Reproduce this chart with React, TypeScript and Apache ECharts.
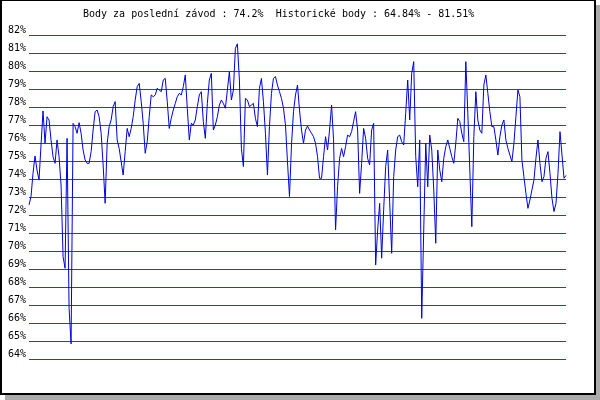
import React, { useEffect, useRef } from "react";
import * as echarts from "echarts";

const titleText = "Body za poslední závod : 74.2%  Historické body : 64.84% - 81.51%";

const scoresPart1 = [
  72.56, 73.02, 74.31, 75.28, 74.5, 73.94, 75.89, 77.78, 75.98, 77.46,
  77.28, 76.17, 75.24, 74.87, 76.17, 75.24, 73.67, 69.69, 69.04, 76.26,
  66.81, 64.84, 77.09, 76.91, 76.54, 77.13, 76.54, 75.61, 75.06, 74.87,
  74.87, 75.52, 76.72, 77.74, 77.83, 77.46, 76.54, 74.78, 72.65, 75.98,
  76.91, 77.28, 78.02, 78.3, 76.17, 75.7, 74.96, 74.22, 75.52, 76.81,
  76.35, 76.81, 77.46, 78.39, 79.13, 79.31, 78.3, 77.09, 75.43, 76.07,
  77.46, 78.67, 78.57, 78.67, 79.04, 78.94, 78.85, 79.5, 79.59, 78.3,
  76.81,
];

const scoresPart2 = [
  77.37, 77.83, 78.2, 78.57, 78.76, 78.67, 79.13, 79.78, 77.93, 76.17,
  77.09, 77.0, 77.28, 78.02, 78.67, 78.85, 77.19, 76.26, 78.2, 79.5,
  79.87, 76.72, 77.0, 77.46, 78.11, 78.39, 78.2, 77.93, 78.94, 79.96,
  78.39, 78.94, 81.26, 81.51, 79.5, 75.7, 74.69, 78.48, 78.39, 78.02,
  78.11, 78.2, 77.37, 76.91, 79.04, 79.59, 78.3, 76.54, 74.22, 76.91,
  78.76, 79.59, 79.69, 79.22, 78.85, 78.48, 77.93, 77.0, 74.96, 73.02,
  75.89, 77.74, 78.67, 79.22, 77.83, 76.72, 75.98, 76.72, 76.94, 76.72,
  76.54, 76.35, 75.98, 75.24, 74.04,
];

const scoresPart3 = [
  74.04, 75.24, 76.35, 75.61, 76.72, 78.11, 76.17, 71.17, 73.57, 75.15,
  75.7, 75.24, 75.8, 76.44, 76.35, 76.63, 77.19, 77.74, 76.72, 73.2,
  74.87, 76.81, 76.26, 75.15, 74.78, 76.72, 77.09, 69.22, 71.17, 72.65,
  69.6, 72.28, 74.69, 75.61, 72.74, 69.87, 74.13, 75.61, 76.35, 76.44,
  76.07, 75.89, 77.65, 79.5, 77.28, 79.87, 80.52, 75.24, 73.57, 76.17,
  66.26, 71.17, 75.98, 73.57, 76.44, 75.61, 73.39, 70.43, 75.61, 74.5,
  73.85, 75.15, 75.8, 76.17, 75.7,
];

const scoresPart4 = [
  75.24, 74.87, 75.98, 77.37, 77.19, 76.54, 76.07, 80.52, 77.65, 74.5,
  71.35, 76.35, 78.85, 77.28, 76.72, 76.54, 79.22, 79.78, 78.76, 77.74,
  76.91, 76.91, 76.17, 75.33, 76.35, 77.0, 77.28, 76.17, 75.7, 75.33,
  74.96, 75.98, 77.46, 78.94, 78.57, 75.06, 74.13, 73.2, 72.37, 72.83,
  73.39, 73.94, 75.15, 76.17, 74.87, 73.85, 74.13, 75.15, 75.52, 74.31,
  72.93, 72.19, 72.65, 74.31, 76.63, 75.33, 74.04, 74.2,
];

const scores = [...scoresPart1, ...scoresPart2, ...scoresPart3, ...scoresPart4];
const races = scores.map((_, i) => String(i + 1));

const yMin = 64;
const yMax = 82;

export default function App() {
  const ref = useRef<HTMLDivElement>(null);

  useEffect(() => {
    if (!ref.current) return;
    const chart = echarts.init(ref.current, undefined, { renderer: "svg" });
    const font = "'DejaVu Sans Mono', 'Liberation Mono', monospace";
    chart.setOption({
      animation: false,
      backgroundColor: "transparent",
      graphic: [
        { type: "rect", z: -10, silent: true, shape: { x: 5, y: 5, width: 595, height: 395 }, style: { fill: "#aaaaaa" } },
        { type: "rect", z: -9, silent: true, shape: { x: 0, y: 0, width: 596, height: 395 }, style: { fill: "#000000" } },
        { type: "rect", z: -8, silent: true, shape: { x: 2, y: 1, width: 592, height: 392 }, style: { fill: "#ffffff" } },
        {
          type: "text",
          x: 83,
          y: 13,
          silent: true,
          style: {
            text: titleText,
            font: `10px ${font}`,
            fill: "#000000",
            verticalAlign: "middle",
            align: "left",
          },
        },
      ],
      grid: { left: 29, right: 34, top: 35, bottom: 41, containLabel: false },
      xAxis: {
        type: "category",
        data: races,
        boundaryGap: false,
        axisLine: { show: false },
        axisTick: { show: false },
        axisLabel: { show: false },
        splitLine: { show: false },
      },
      yAxis: {
        type: "value",
        min: yMin,
        max: yMax,
        interval: 1,
        axisLine: { show: false },
        axisTick: { show: false },
        axisLabel: {
          formatter: "{value}%",
          fontFamily: font,
          fontSize: 10,
          color: "#000000",
          margin: 3,
          verticalAlign: "bottom",
          lineHeight: 12,
        },
        splitLine: { show: true, lineStyle: { color: "#e00000", width: 1 } },
      },
      series: [
        {
          type: "line",
          data: scores,
          symbol: "none",
          lineStyle: { color: "#0000dd", width: 1 },
          itemStyle: { color: "#0000dd" },
        },
      ],
    });
    return () => chart.dispose();
  }, []);

  return (
    <div
      ref={ref}
      style={{ position: "fixed", left: 0, top: 0, width: 600, height: 400 }}
    />
  );
}
